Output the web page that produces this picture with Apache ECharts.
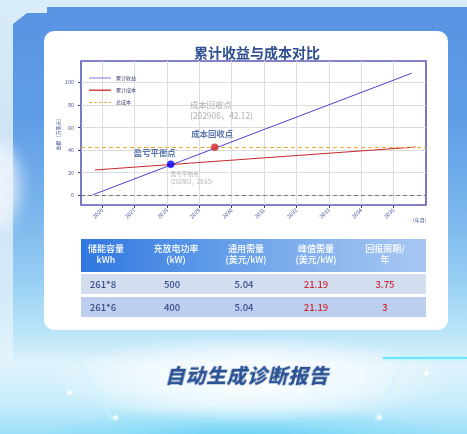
<!DOCTYPE html>
<html><head><meta charset="utf-8">
<script src="https://cdn.jsdelivr.net/npm/echarts@6/dist/echarts.min.js"></script>
<style>
html,body{margin:0;padding:0;width:467px;height:434px;overflow:hidden;}
body{position:relative;font-family:"Noto Sans CJK SC","Noto Sans",sans-serif;
 background:linear-gradient(180deg,#d9ecf9 0px,#cfe3f5 150px,#d4ebf9 300px,#e3f4fc 360px,#c6ecfb 405px,#9be0f8 434px);}
#panel{position:absolute;left:13px;top:7px;width:454px;height:360px;
 background:linear-gradient(180deg,#5993e2 0%,#5f9ce6 30%,#77b3ec 55%,#95cdf3 75%,#b3e2f8 88%,rgba(215,240,252,0) 100%);
 clip-path:polygon(0 17px,14px 6px,34px 6px,34px 0,100% 0,100% 100%,0 100%);}
#glow{position:absolute;left:0;top:320px;width:467px;height:114px;
 background:radial-gradient(ellipse 200px 45px at 250px 60px,rgba(255,255,255,0.95),rgba(255,255,255,0.6) 55%,rgba(255,255,255,0) 100%),
 radial-gradient(ellipse 220px 40px at 245px 125px,rgba(80,200,245,0.85),rgba(120,215,248,0.4) 60%,rgba(150,220,250,0) 100%);}
#leftblob{position:absolute;left:-40px;top:140px;width:60px;height:90px;border-radius:50%;background:rgba(240,246,252,0.8);filter:blur(8px);}
#card{position:absolute;left:44px;top:31px;width:404px;height:299px;background:#fff;border-radius:10px;}
#chart{position:absolute;left:0;top:0;width:467px;height:434px;}
.beam{position:absolute;width:3px;height:100px;background:linear-gradient(180deg,rgba(255,255,255,0),rgba(200,240,255,0.9));filter:blur(1px);}
.star{position:absolute;width:3px;height:3px;border-radius:50%;background:#fff;box-shadow:0 0 2px 1px rgba(255,255,255,0.8);}
#thead{position:absolute;left:81px;top:239px;width:345px;height:33px;
 background:linear-gradient(90deg,#2f77e0 0%,#5c98e8 35%,#8ab5ee 70%,#a8c8f2 100%);}
.row{position:absolute;left:81px;width:345px;height:20px;}
.h{position:absolute;top:4px;width:90px;text-align:center;color:#fff;font-size:9px;line-height:11px;font-weight:500;}
.d{position:absolute;top:0;width:80px;text-align:center;color:#3a4d88;font-size:9.5px;line-height:20px;font-weight:500;}
.red{color:#cc2b36;}
#bottom{position:absolute;left:129px;top:361px;width:240px;text-align:center;color:#2c5393;font-size:20px;font-weight:900;line-height:28px;transform:skewX(-14deg);letter-spacing:0.5px;}
#cyanline{position:absolute;left:383px;top:357px;width:84px;height:1.5px;background:#6fe3fb;box-shadow:0 0 3px #8ff;}
</style></head>
<body>
<div id="panel"></div>
<div id="leftblob"></div>
<div id="glow"></div>
<div class="beam" style="left:85px;top:325px;transform:rotate(-30deg);"></div>
<div class="beam" style="left:395px;top:325px;transform:rotate(25deg);"></div>
<div id="cyanline"></div>
<div class="star" style="left:68px;top:391px;"></div>
<div class="star" style="left:114px;top:416px;"></div>
<div class="star" style="left:378px;top:416px;"></div>
<div class="star" style="left:425px;top:372px;"></div>
<div class="star" style="left:298px;top:390px;"></div>
<div id="card"></div>
<div id="chart"></div>
<div id="thead"></div>
<div class="row" id="r1" style="top:274px;background:#d3ddf0;"></div>
<div class="row" id="r2" style="top:297px;background:#bccfee;"></div>
<div id="bottom">自动生成诊断报告</div>
<script>
// ---- data ----
const incomeYears = [2025.72, 2035.56];
const incomeValues = [0.5, 108];
const costYears = [2025.78, 2035.68];
const costValues = [22.4, 42.7];
const totalCost = 42.12;
const pointYears = [2028.12, 2029.48];
const pointValues = [27.4, 42.5];
const pointNames = ['盈亏平衡点', '成本回收点'];
const pointNotes = ['(202803，28.65)', '(202906，42.12)'];
const xTicks = [2026, 2027, 2028, 2029, 2030, 2031, 2032, 2033, 2034, 2035];
const yTicks = [0, 20, 40, 60, 80, 100];
const seriesNames = ['累计收益', '累计成本', '总成本'];

const tableHeaders = ['储能容量<br>kWh', '充放电功率<br>(kW)', '通用需量<br>(美元/kW)', '峰值需量<br>(美元/kW)', '回报周期/<br>年'];
const capacity = ['261*8', '261*6'];
const power = ['500', '400'];
const generalDemand = ['5.04', '5.04'];
const peakDemand = ['21.19', '21.19'];
const payback = ['3.75', '3'];

// ---- table ----
const headCenters = [25, 95, 165, 235, 304];
const cellCenters = [22, 91, 163, 235, 304];
const th = document.getElementById('thead');
tableHeaders.forEach((t, i) => {
  const d = document.createElement('div'); d.className = 'h';
  d.style.left = (headCenters[i] - 45) + 'px'; d.innerHTML = t; th.appendChild(d);
});
[document.getElementById('r1'), document.getElementById('r2')].forEach((row, r) => {
  const vals = [capacity[r], power[r], generalDemand[r], peakDemand[r], payback[r]];
  vals.forEach((v, i) => {
    const d = document.createElement('div'); d.className = 'd' + (i >= 3 ? ' red' : '');
    d.style.left = (cellCenters[i] - 40) + 'px'; d.textContent = v; row.appendChild(d);
  });
});

// ---- chart ----
const FF = '"Noto Sans CJK SC","Noto Sans",sans-serif';
const zip = (a, b) => a.map((v, i) => [v, b[i]]);
const chart = echarts.init(document.getElementById('chart'), null, {renderer: 'canvas'});
const dotColors = ['#0000ff', '#c8282c'];
const boldOffsets = [[-16, -11.3], [-2.7, -13.3]];
const noteOffsets = [[0, 13.7], [-24.7, -36.8]];
const noteStyles = [{fontSize: 5.6, lineHeight: 8}, {fontSize: 8.4, lineHeight: 11}];
const dashIcon = 'path://M0,0h3v1h-3zM5,0h3v1h-3zM10,0h3v1h-3zM15,0h3v1h-3zM20,0h2v1h-2z';

chart.setOption({
  animation: false,
  title: {text: '累计收益与成本对比', left: 189, top: 41,
    textStyle: {fontSize: 14, fontWeight: 'bold', color: '#2f4f8f', fontFamily: FF}},
  legend: {orient: 'vertical', left: 89, top: 75.5, padding: 0, itemWidth: 22, itemHeight: 1.3, itemGap: 7.2,
    data: [
      {name: seriesNames[0], icon: 'rect', itemStyle: {color: '#9c97e2'}},
      {name: seriesNames[1], icon: 'rect'},
      {name: seriesNames[2], icon: dashIcon}
    ],
    textStyle: {fontSize: 5, color: '#333a70', fontFamily: FF}},
  grid: {left: 81, top: 61, right: 41, bottom: 229, show: true, borderColor: '#5a58b5', borderWidth: 1.6},
  xAxis: {type: 'value', min: 2025.35, max: 2036, splitNumber: 10,
    name: '(年月)', nameLocation: 'end', nameGap: 0,
    nameTextStyle: {fontSize: 5, color: '#3a4f99', fontFamily: FF, align: 'left', verticalAlign: 'top', padding: [13, 0, 0, -13]},
    axisLine: {show: false, onZero: false},
    axisTick: {show: true, length: 3, customValues: xTicks, lineStyle: {color: '#2f3f9f'}},
    axisLabel: {customValues: xTicks, rotate: 45, fontSize: 5.5, color: '#4a5a9a', margin: 4, fontFamily: FF,
      formatter: v => String(Math.round(v))},
    splitLine: {show: true, lineStyle: {color: '#dcdcdc', width: 1}}},
  yAxis: {type: 'value', min: -8.6, max: 118.8, splitNumber: 6,
    name: '金额（万美元）', nameLocation: 'middle', nameGap: 20, nameRotate: 90, nameMoveOverlap: false,
    nameTextStyle: {fontSize: 5, color: '#3a4f99', fontFamily: FF},
    axisLine: {show: false, onZero: false},
    axisTick: {show: true, length: 3, customValues: yTicks, lineStyle: {color: '#2f3f9f'}},
    axisLabel: {customValues: yTicks, fontSize: 5.5, color: '#4a5a9a', margin: 7, fontFamily: FF},
    splitLine: {show: true, lineStyle: {color: '#dcdcdc', width: 1}}},
  series: [
    {name: seriesNames[0], type: 'line', data: zip(incomeYears, incomeValues), symbol: 'none',
      lineStyle: {color: '#4b44cc', width: 1}, itemStyle: {color: '#4b44cc'}, z: 3,
      markLine: {silent: true, symbol: ['none', 'none'], label: {show: false},
        lineStyle: {color: '#7a7a7a', type: [4, 3], width: 1}, data: [{yAxis: 0}]}},
    {name: seriesNames[1], type: 'line', data: zip(costYears, costValues), symbol: 'none',
      lineStyle: {color: '#c8282c', width: 1}, itemStyle: {color: '#c8282c'}, z: 3},
    {name: seriesNames[2], type: 'line', data: [], symbol: 'none',
      lineStyle: {color: '#f5a935', type: [4, 3], width: 1}, itemStyle: {color: '#f5a935'},
      markLine: {silent: true, symbol: ['none', 'none'], label: {show: false},
        lineStyle: {color: '#f5a935', type: [4, 3], width: 1}, data: [{yAxis: totalCost}]}},
    {name: 'points', type: 'scatter', symbolSize: 7.5, z: 5,
      data: pointYears.map((x, i) => ({value: [x, pointValues[i]], itemStyle: {color: dotColors[i]},
        label: {show: true, position: 'inside', offset: boldOffsets[i], align: 'center', verticalAlign: 'middle',
          formatter: pointNames[i], fontSize: 8.4, fontWeight: 'bold', color: '#2f5597', fontFamily: FF}}))},
    {name: 'notes', type: 'scatter', symbolSize: 1, z: 4, itemStyle: {color: 'rgba(0,0,0,0)'},
      data: pointYears.map((x, i) => ({value: [x, pointValues[i]],
        label: {show: true, position: 'inside', offset: noteOffsets[i], align: 'left', verticalAlign: 'middle',
          formatter: pointNames[i] + '\n' + pointNotes[i], fontSize: noteStyles[i].fontSize,
          lineHeight: noteStyles[i].lineHeight, color: '#9a9a9a', fontFamily: FF}}))}
  ]
});
</script>
</body></html>
